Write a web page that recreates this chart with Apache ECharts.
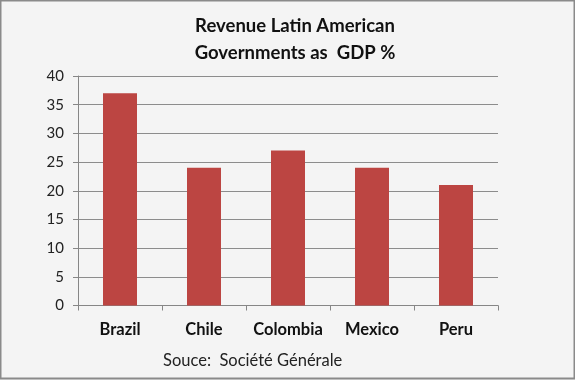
<!DOCTYPE html>
<html><head><meta charset="utf-8">
<script src="https://cdn.jsdelivr.net/npm/echarts@6/dist/echarts.min.js"></script>
<style>html,body{margin:0;padding:0;background:#f4f4f4}#c{width:575px;height:380px}</style>
</head><body><div id="c"></div>
<script>
const categories = ['Brazil', 'Chile', 'Colombia', 'Mexico', 'Peru'];
const revenuePct = [37, 24, 27, 24, 21];
const yTicks = [0, 5, 10, 15, 20, 25, 30, 35, 40];

const chart = echarts.init(document.getElementById('c'));
chart.setOption({
  backgroundColor: '#f4f4f4',
  animation: false,
  title: {
    text: 'Revenue Latin American\nGovernments as  GDP %',
    left: 290, top: 8, textAlign: 'center',
    textStyle: {fontFamily: 'Lato', fontWeight: 'bold', fontSize: 18.5, color: '#111', lineHeight: 27}
  },
  graphic: [
    {type: 'rect', shape: {x: 0.5, y: 0.5, width: 574, height: 378}, style: {fill: 'none', stroke: '#8a8a8a', lineWidth: 2}, z: 100},
    {type: 'text', left: 163, top: 352, style: {text: 'Souce:  Société Générale', font: '16.5px Lato', fill: '#222'}}
  ],
  grid: {left: 78, right: 77, top: 76, bottom: 74.5},
  xAxis: {
    type: 'category', data: categories,
    axisLine: {lineStyle: {color: '#868686'}},
    axisTick: {show: true, length: 5, lineStyle: {color: '#868686'}},
    axisLabel: {interval: 0, hideOverlap: false, fontFamily: 'Lato', fontWeight: 'bold', fontSize: 16.5, color: '#111', margin: 16}
  },
  yAxis: {
    type: 'value', min: yTicks[0], max: yTicks[yTicks.length - 1], interval: 5,
    axisLine: {show: true, lineStyle: {color: '#868686'}},
    axisTick: {show: true, length: 5, lineStyle: {color: '#868686'}},
    splitLine: {show: true, lineStyle: {color: '#8c8c8c'}},
    axisLabel: {fontFamily: 'Lato', fontSize: 15, color: '#222', margin: 14}
  },
  series: [{
    type: 'bar', data: revenuePct, barWidth: 34,
    itemStyle: {color: '#BC4542'}
  }]
});
</script></body></html>
